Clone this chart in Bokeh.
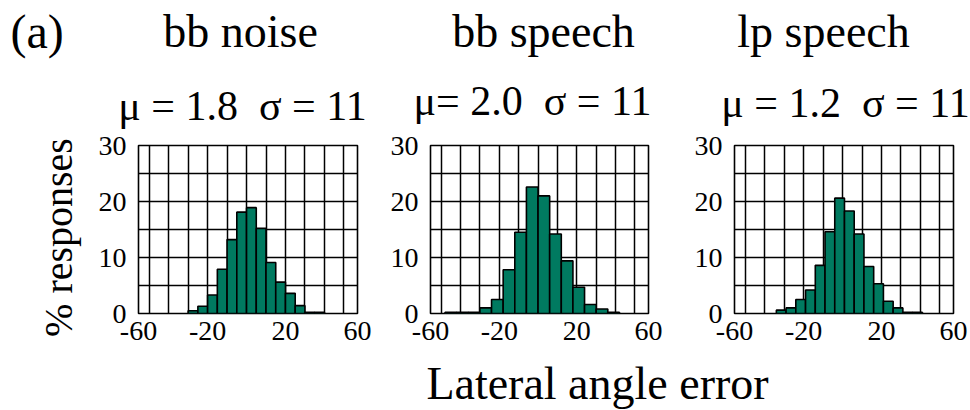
import math

from bokeh.core.properties import value
from bokeh.embed import file_html
from bokeh.layouts import column, row
from bokeh.models import FixedTicker, Range1d
from bokeh.plotting import figure
from bokeh.resources import INLINE

SERIF = "Liberation Serif"
BAR_FILL = "#007a60"

# ---- data -----------------------------------------------------------------
conditions = ["bb noise", "bb speech", "lp speech"]
stats = ["\u03bc = 1.8\u00a0 \u03c3 = 11",
         "\u03bc= 2.0\u00a0 \u03c3 = 11",
         "\u03bc = 1.2\u00a0 \u03c3 = 11"]

angle_tick_labels = ["-60", "-20", "20", "60"]
angle_grid = [-50, -40, -30, -20, -10, 0, 10, 20, 30, 40, 50]
pct_ticks = [0, 10, 20, 30]
pct_grid = [0, 5, 10, 15, 20, 25, 30]

# broadband noise, 5 degree bins
noise_edges = [-30, -25, -20, -15, -10, -5, 0, 5, 10, 15, 20, 25, 30, 35, 40]
noise_pct = [0.5, 1.3, 3.3, 7.9, 13.2, 18.1, 18.9, 15.2, 9.1, 5.6, 3.6, 1.4, 0.2, 0.2]

# broadband speech, 6 degree bins
speech_edges = [-48, -42, -36, -30, -24, -18, -12, -6, 0, 6, 12, 18, 24, 30, 36, 42]
speech_pct = [0.2, 0.2, 0.2, 1.0, 2.5, 7.8, 14.5, 22.6, 21.0, 14.2, 9.4, 4.7, 1.6, 0.8, 0.2]

# low-pass speech, 5 degree bins
lp_edges = [-34, -29, -24, -19, -14, -9, -4, 1, 6, 11, 16, 21, 26, 31, 36, 41]
lp_pct = [0.6, 1.0, 2.5, 4.2, 8.6, 14.6, 20.6, 18.3, 14.2, 8.4, 5.3, 2.2, 1.0, 0.2, 0.2]

X_LO, X_HI = -55.5, 57.0

# ---- page geometry (pixels) -------------------------------------------------
PAGE_W, PAGE_H = 970, 410
LEFT_W = 95            # full-height strip holding "(a)" and the shared y label
MAIN_W = PAGE_W - LEFT_W
TOP_H = 131            # strip holding the panel headings
ROW_BOTTOM = 352       # bottom of the histogram row
ROW_H = ROW_BOTTOM - TOP_H


def blank(width, height):
    """A bare canvas whose data units are pixels from its top-left corner."""
    p = figure(width=width, height=height, output_backend="svg", toolbar_location=None,
               x_range=Range1d(0, width), y_range=Range1d(height, 0), min_border=0)
    p.axis.visible = False
    p.grid.visible = False
    p.outline_line_color = None
    return p


def text(p, s, x, y, size, align="center", base="alphabetic", angle=0):
    p.text(x=[x], y=[y], text=[s], text_font=value(SERIF), text_font_size=value(size),
           text_color="black", text_align=align, text_baseline=base, angle=angle)


def panel(edges, pct, x0, width, frame_l, frame_r, frame_t, frame_b):
    # frame_* are page coordinates; x0 is the page x of this canvas
    p = figure(width=width, height=ROW_H, output_backend="svg",
               toolbar_location=None,
               x_range=Range1d(X_LO, X_HI), y_range=Range1d(0, 30),
               min_border_left=frame_l - x0, min_border_right=x0 + width - frame_r,
               min_border_top=frame_t - TOP_H, min_border_bottom=ROW_BOTTOM - frame_b)
    p.quad(left=edges[:-1], right=edges[1:], bottom=0, top=pct,
           fill_color=BAR_FILL, line_color="black", line_width=1.6)

    xt = [X_LO, -20, 20, X_HI]
    p.xaxis.ticker = FixedTicker(ticks=xt)
    p.xaxis.major_label_overrides = dict(zip(xt, angle_tick_labels))
    p.yaxis.ticker = FixedTicker(ticks=pct_ticks)
    p.xgrid.ticker = FixedTicker(ticks=angle_grid)
    p.ygrid.ticker = FixedTicker(ticks=pct_grid)
    for g in (p.xgrid, p.ygrid):
        g.grid_line_color = "black"
        g.grid_line_width = 1.5
    for ax in (p.xaxis, p.yaxis):
        ax.axis_line_color = None
        ax.major_tick_line_color = None
        ax.minor_tick_line_color = None
        ax.major_label_text_font = SERIF
        ax.major_label_text_font_size = "28px"
        ax.major_label_text_color = "black"
    p.xaxis.major_label_standoff = 2
    p.yaxis.major_label_standoff = 6
    p.outline_line_color = "black"
    p.outline_line_width = 1.6
    return p


# panel letter and shared y label
left = blank(LEFT_W, PAGE_H)
text(left, "(a)", 10, 31, "48px", align="left")
text(left, "% responses", 58, 237, "40px", base="middle", angle=math.pi / 2)

# headings
top = blank(MAIN_W, TOP_H)
for s, cx in zip(conditions, [240, 543, 823]):
    text(top, s, cx - LEFT_W, 31, "46px")
for s, cx, base in zip(stats, [242, 532, 845], [105, 100, 102]):
    text(top, s, cx - LEFT_W, base, "42px")

p1 = panel(noise_edges, noise_pct, LEFT_W, 385 - LEFT_W, 137, 357, 144, 313)
p2 = panel(speech_edges, speech_pct, 385, 295, 430, 648, 144, 317)
p3 = panel(lp_edges, lp_pct, 680, 290, 734, 953, 145, 318)

# shared x label
bottom = blank(MAIN_W, PAGE_H - ROW_BOTTOM)
text(bottom, "Lateral angle error", 597 - LEFT_W, 383 - ROW_BOTTOM, "46px")

layout = row(left,
             column(top, row(p1, p2, p3, spacing=0), bottom, spacing=0),
             spacing=0)

with open("out.html", "w") as fh:
    fh.write(file_html(layout, INLINE))
